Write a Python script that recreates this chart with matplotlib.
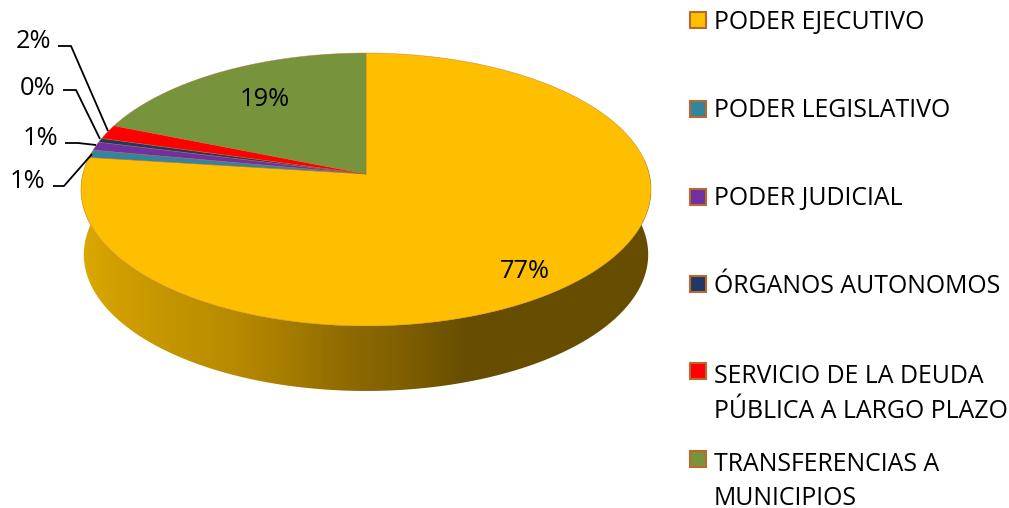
import numpy as np
import matplotlib
matplotlib.use("Agg")
import matplotlib.pyplot as plt
from matplotlib.path import Path
from matplotlib.transforms import Transform, Affine2D
from matplotlib.colors import LinearSegmentedColormap
from matplotlib.patches import Polygon, Rectangle

categories = ["PODER EJECUTIVO", "PODER LEGISLATIVO", "PODER JUDICIAL", "ÓRGANOS AUTONOMOS",
              "SERVICIO DE LA DEUDA\nPÚBLICA A LARGO PLAZO", "TRANSFERENCIAS A\nMUNICIPIOS"]
values = [77.0, 0.9, 1.0, 0.49, 1.7, 18.91]
labels = ["77%", "1%", "1%", "0%", "2%", "19%"]
colors = ["#FFC000", "#31859C", "#7030A0", "#1F3864", "#FF0000", "#77933C"]

plt.rcParams['font.family'] = ['Open Sans', 'DejaVu Sans']
W, H = 1009, 508
CX, CY, KX, KY, K = 366.0, 174.0, 283.2, 134.7, 0.1136
DEPTH = 65


class Persp(Transform):
    input_dims = output_dims = 2

    def __init__(self, cy=CY, kx=KX, ky=KY):
        super().__init__()
        self.cy, self.kx, self.ky = cy, kx, ky

    def transform_non_affine(self, xy):
        xy = np.asarray(xy)
        d = 1 + K * xy[:, 1]
        return np.column_stack([CX + self.kx * xy[:, 0] / d, self.cy - self.ky * xy[:, 1] / d])

    def transform_path_non_affine(self, path):
        scale = 2000.0
        polys = path.to_polygons(Affine2D().scale(scale))
        return Path(self.transform_non_affine(polys[0] / scale), closed=True)


fig = plt.figure(figsize=(W / 100, H / 100), dpi=100)
ax = fig.add_axes([0, 0, 1, 1])
wedges, _ = ax.pie(values, colors=colors, startangle=90, counterclock=False, radius=1)
ax.set_aspect('auto')
ax.axis('off')

top = Persp()
for w in wedges:
    w.set_transform(top + ax.transData)
    w.set_edgecolor((0.72, 0.41, 0.17, 0.55))
    w.set_linewidth(0.5)
    w.set_zorder(3)
wedges[0].set_facecolor('#FDBF00')

# side wall: gradient clipped to the band between the upper and lower rims
lim = np.pi / 2 + np.arcsin(K)
t = np.linspace(-lim, lim, 400)
unit = np.column_stack([np.sin(t), -np.cos(t)])
rim_top = top.transform_non_affine(unit)
rim_bot = Persp(cy=CY + DEPTH, kx=KX * 0.99, ky=KY).transform_non_affine(unit)
side = Polygon(np.vstack([rim_top, rim_bot[::-1]]), closed=True, facecolor='none',
               edgecolor='none', transform=ax.transData)
ax.add_patch(side)
grad = LinearSegmentedColormap.from_list(
    'side', [(0, '#DCA900'), (0.04, '#D4A100'), (0.156, '#C39500'), (0.27, '#B88A00'),
             (0.39, '#A07800'), (0.477, '#8C6900'), (0.56, '#806000'), (0.68, '#664D00'),
             (1, '#664D00')])
im = ax.imshow(np.linspace(0, 1, 256)[None, :], cmap=grad, extent=[81, 651, 400, 100],
               aspect='auto', zorder=1)
im.set_clip_path(side)
ax.set_xlim(0, W)
ax.set_ylim(H, 0)

fs = 18.4
ax.text(525, 272, labels[0], fontsize=fs, ha='center', va='center', zorder=5)
ax.text(265, 100, labels[5], fontsize=fs, ha='center', va='center', zorder=5)

for x, y, s in [(33.5, 41, labels[4]), (38, 88.5, labels[3]), (40.5, 138.5, labels[2]), (27.5, 182, labels[1])]:
    ax.text(x, y, s, fontsize=fs, ha='center', va='center', zorder=5)
leaders = [([58, 71, 108], [46, 46, 131]), ([63, 76, 100], [90, 90, 139]),
           ([65, 78, 96], [143, 143, 145]), ([53, 64, 92], [186, 186, 154])]
for xs, ys in leaders:
    ax.plot(xs, ys, color='black', lw=1.3, zorder=6, solid_capstyle='butt')

box_y = [19.5, 108.5, 196.5, 284, 371, 459]
text_y = [23, 110.5, 198.5, 286.5, 394, 481.5]
for name, col, by, ty in zip(categories, colors, box_y, text_y):
    ax.add_patch(Rectangle((690, by - 8), 16, 16, facecolor=col, edgecolor='#B8692B', lw=1.5, zorder=5))
    ax.text(714, ty, name, fontsize=17.9, ha='left', va='center', linespacing=1.52, zorder=5)

fig.savefig('out.png', dpi=100)
